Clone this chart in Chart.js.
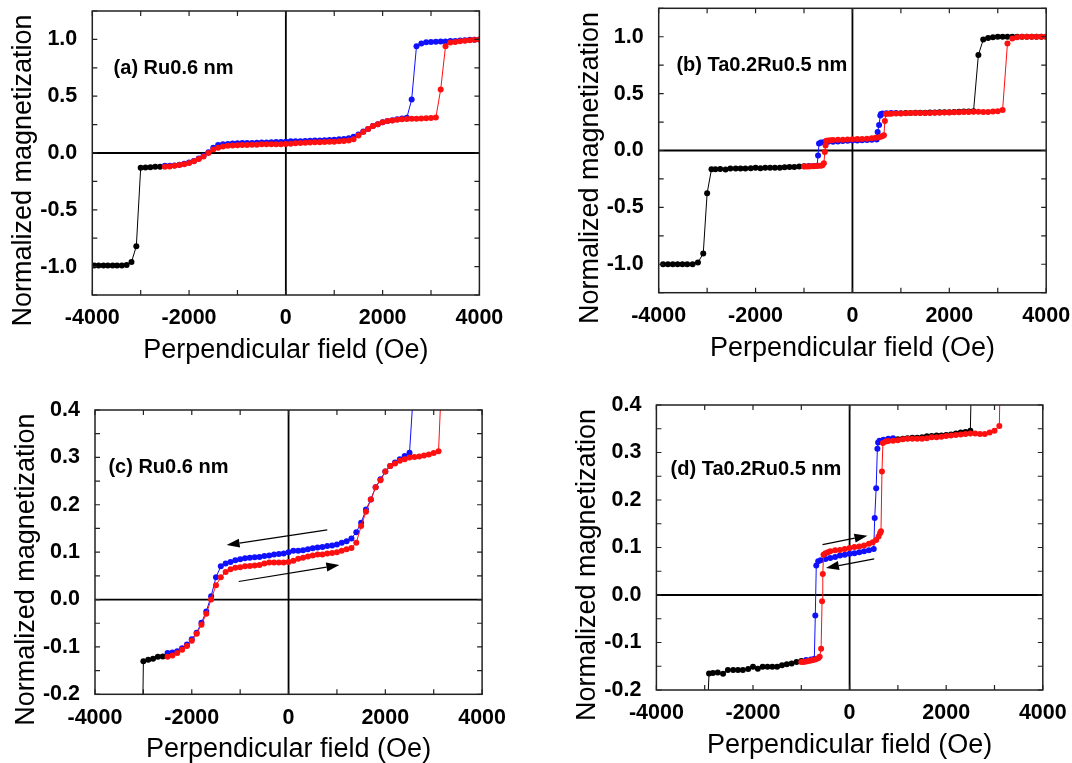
<!DOCTYPE html>
<html>
<head>
<meta charset="utf-8">
<title>Normalized magnetization vs perpendicular field</title>
<script src="https://cdn.jsdelivr.net/npm/chart.js@4.4.1/dist/chart.umd.min.js"></script>
<style>
  html, body { margin: 0; padding: 0; background: #fff; }
  body { width: 1072px; height: 763px; position: relative; overflow: hidden; }
  .panel { position: absolute; }
</style>
</head>
<body>
<div class="panel" style="left:0;top:-20px"><canvas id="chartA" width="536" height="401"></canvas></div>
<div class="panel" style="left:536px;top:-20px"><canvas id="chartB" width="560" height="401"></canvas></div>
<div class="panel" style="left:0;top:381px"><canvas id="chartC" width="536" height="382"></canvas></div>
<div class="panel" style="left:536px;top:381px"><canvas id="chartD" width="560" height="382"></canvas></div>
<script>
// Ru0.6 nm sample (panels a and c) - field in Oe, normalized magnetization
const ruBlackField = [-3960, -3870, -3770, -3680, -3580, -3490, -3390, -3290, -3190, -3090, -3000, -2900, -2800, -2700, -2600];
const ruBlackM = [-0.99, -0.99, -0.99, -0.99, -0.99, -0.99, -0.99, -0.985, -0.96, -0.82, -0.130, -0.127, -0.125, -0.121, -0.120];

const ruLoopField = [-2500, -2400, -2300, -2200, -2100, -2000, -1900, -1800, -1700, -1600,
  -1500, -1400, -1300, -1200, -1100, -1000, -900, -800, -700, -600,
  -500, -400, -300, -200, -100, 0, 100, 200, 300, 400,
  500, 600, 700, 800, 900, 1000, 1100, 1200, 1300, 1400,
  1500, 1600, 1700, 1800, 1900, 2000, 2100, 2200, 2300, 2400,
  2500, 2600, 2700, 2800, 2900, 3000, 3100, 3200, 3300, 3400,
  3500, 3600, 3700, 3800, 3900, 4000];
const ruBlueM = [-0.113, -0.112, -0.109, -0.103, -0.095, -0.084, -0.070, -0.049, -0.025, 0.007,
  0.047, 0.070, 0.076, 0.079, 0.083, 0.085, 0.087, 0.088, 0.089, 0.090,
  0.092, 0.093, 0.095, 0.096, 0.097, 0.100, 0.103, 0.103, 0.104, 0.106,
  0.108, 0.110, 0.111, 0.113, 0.114, 0.116, 0.120, 0.123, 0.129, 0.142,
  0.162, 0.190, 0.211, 0.237, 0.254, 0.270, 0.282, 0.289, 0.296, 0.303,
  0.310, 0.47, 0.94, 0.965, 0.975, 0.978, 0.980, 0.981, 0.982, 0.985,
  0.987, 0.990, 0.993, 0.996, 0.998, 1.0];
const ruRedM = [-0.121, -0.118, -0.113, -0.106, -0.098, -0.087, -0.072, -0.053, -0.030, 0.000,
  0.030, 0.047, 0.058, 0.064, 0.067, 0.068, 0.070, 0.071, 0.072, 0.073,
  0.076, 0.078, 0.078, 0.078, 0.078, 0.079, 0.082, 0.086, 0.088, 0.091,
  0.093, 0.095, 0.095, 0.097, 0.098, 0.100, 0.103, 0.106, 0.109, 0.120,
  0.155, 0.185, 0.211, 0.237, 0.252, 0.270, 0.282, 0.287, 0.293, 0.296,
  0.300, 0.301, 0.302, 0.304, 0.306, 0.309, 0.313, 0.56, 0.94, 0.972,
  0.978, 0.983, 0.988, 0.993, 0.997, 1.0];

// Ta0.2Ru0.5 nm sample (panels b and d)
const taBlackLeftField = [-3910, -3810, -3710, -3610, -3510, -3410, -3300, -3190, -3080, -3000,
  -2910, -2830, -2730, -2620, -2520, -2410, -2310, -2210, -2100, -2000,
  -1900, -1800, -1700, -1600, -1500, -1400, -1300, -1200, -1100, -1000];
const taBlackLeftM = [-1.0, -1.0, -1.0, -1.0, -1.0, -1.0, -1.0, -0.985, -0.905, -0.375,
  -0.165, -0.164, -0.163, -0.166, -0.158, -0.158, -0.158, -0.158, -0.156, -0.151,
  -0.155, -0.151, -0.151, -0.151, -0.151, -0.148, -0.146, -0.144, -0.141, -0.139];
const taBlackRightField = [1000, 1100, 1200, 1300, 1400, 1500, 1600, 1700, 1800, 1900,
  2000, 2100, 2200, 2300, 2400, 2500, 2600, 2700, 2800, 2900,
  3000, 3100, 3200, 3300, 3400, 3500, 3600, 3700, 3800, 3900, 4000];
const taBlackRightM = [0.328, 0.329, 0.330, 0.331, 0.331, 0.332, 0.334, 0.335, 0.336, 0.336,
  0.337, 0.338, 0.340, 0.342, 0.343, 0.346, 0.84, 0.975, 0.99, 0.995,
  1.0, 1.0, 1.0, 1.0, 1.0, 1.0, 1.0, 1.0, 1.0, 1.0, 1.0];
const taBlueField = [900, 800, 700, 620, 590, 575, 550, 520, 500, 400,
  300, 200, 100, 0, -100, -200, -300, -400, -500, -600,
  -650, -690, -710, -730, -800, -900];
const taBlueM = [0.330, 0.329, 0.327, 0.325, 0.321, 0.308, 0.225, 0.162, 0.097, 0.094,
  0.092, 0.090, 0.088, 0.087, 0.085, 0.083, 0.080, 0.078, 0.076, 0.073,
  0.071, 0.062, -0.043, -0.134, -0.136, -0.137];
const taRedField = [-1000, -950, -900, -850, -800, -750, -700, -650, -620, -590,
  -570, -555, -540, -500, -450, -400, -300, -200, -100, 0,
  100, 200, 300, 400, 480, 550, 600, 630, 650, 670,
  690, 750, 800, 900, 1000, 1100, 1200, 1300, 1400, 1500,
  1600, 1700, 1800, 1900, 2000, 2100, 2200, 2300, 2400, 2500,
  2600, 2700, 2800, 2900, 3000, 3100, 3200, 3300, 3400, 3500,
  3600, 3700, 3800, 3900, 4000];
const taRedM = [-0.141, -0.141, -0.140, -0.139, -0.138, -0.137, -0.135, -0.133, -0.130, -0.113,
  -0.013, 0.044, 0.085, 0.088, 0.090, 0.092, 0.094, 0.095, 0.097, 0.099,
  0.101, 0.102, 0.104, 0.108, 0.111, 0.116, 0.123, 0.130, 0.134, 0.260,
  0.320, 0.323, 0.324, 0.325, 0.326, 0.328, 0.329, 0.329, 0.329, 0.329,
  0.330, 0.332, 0.332, 0.333, 0.335, 0.336, 0.337, 0.338, 0.339, 0.340,
  0.340, 0.339, 0.339, 0.342, 0.346, 0.356, 0.94, 0.984, 0.995, 0.999,
  1.0, 1.0, 1.0, 1.0, 1.0];

// sweep-direction arrows, [field, magnetization] start -> end
const arrowsC = [[[800, 0.147], [-1280, 0.115]], [[-1030, 0.038], [1050, 0.073]]];
const arrowsD = [[[-560, 0.106], [370, 0.125]], [[510, 0.076], [-490, 0.057]]];

const panelLabels = ['(a) Ru0.6 nm', '(b) Ta0.2Ru0.5 nm', '(c) Ru0.6 nm', '(d) Ta0.2Ru0.5 nm'];
const xTitle = 'Perpendicular field (Oe)';
const yTitle = 'Normalized magnetization';

const FONT = "'Liberation Sans', Arial, sans-serif";

function pts(field, m) {
    return field.map((x, i) => ({ x: x, y: m[i] }));
}

function series(field, m, color) {
    return {
        data: pts(field, m),
        showLine: true,
        borderColor: color,
        backgroundColor: color,
        borderWidth: 1,
        pointRadius: 3,
        pointBorderWidth: 0,
        pointHoverRadius: 3,
        clip: 0
    };
}

// draws the frame, inward ticks, zero lines, arrows and texts
function framePlugin(cfg) {
    return {
        id: 'frame' + cfg.id,
        beforeDatasetsDraw(chart) {
            const { ctx, chartArea: a, scales } = chart;
            const x0 = scales.x.getPixelForValue(0);
            const y0 = scales.y.getPixelForValue(0);
            ctx.save();
            ctx.strokeStyle = '#000';
            ctx.lineWidth = 1.8;
            ctx.beginPath();
            ctx.moveTo(x0, a.top); ctx.lineTo(x0, a.bottom);
            ctx.moveTo(a.left, y0); ctx.lineTo(a.right, y0);
            ctx.stroke();
            ctx.restore();
        },
        afterDatasetsDraw(chart) {
            const { ctx, chartArea: a, scales } = chart;
            const xs = scales.x, ys = scales.y;
            ctx.save();
            ctx.strokeStyle = '#222';
            ctx.lineWidth = 1.5;
            ctx.strokeRect(a.left, a.top, a.right - a.left, a.bottom - a.top);
            ctx.lineWidth = 1.2;
            ctx.beginPath();
            xs.ticks.forEach(t => {
                const px = xs.getPixelForValue(t.value);
                ctx.moveTo(px, a.bottom); ctx.lineTo(px, a.bottom - 5);
                ctx.moveTo(px, a.top); ctx.lineTo(px, a.top + 5);
            });
            ys.ticks.forEach(t => {
                const py = ys.getPixelForValue(t.value);
                ctx.moveTo(a.left, py); ctx.lineTo(a.left + 5, py);
                ctx.moveTo(a.right, py); ctx.lineTo(a.right - 5, py);
            });
            ctx.stroke();

            // arrows
            ctx.strokeStyle = '#000';
            ctx.fillStyle = '#000';
            (cfg.arrows || []).forEach(([p, q]) => {
                const x1 = xs.getPixelForValue(p[0]), y1 = ys.getPixelForValue(p[1]);
                const x2 = xs.getPixelForValue(q[0]), y2 = ys.getPixelForValue(q[1]);
                const ang = Math.atan2(y2 - y1, x2 - x1);
                const len = 13, hw = 4.5;
                ctx.lineWidth = 1.2;
                ctx.beginPath();
                ctx.moveTo(x1, y1);
                ctx.lineTo(x2 - len * Math.cos(ang), y2 - len * Math.sin(ang));
                ctx.stroke();
                ctx.beginPath();
                ctx.moveTo(x2, y2);
                ctx.lineTo(x2 - len * Math.cos(ang) - hw * Math.sin(ang), y2 - len * Math.sin(ang) + hw * Math.cos(ang));
                ctx.lineTo(x2 - len * Math.cos(ang) + hw * Math.sin(ang), y2 - len * Math.sin(ang) - hw * Math.cos(ang));
                ctx.closePath();
                ctx.fill();
            });

            // panel label
            ctx.fillStyle = '#000';
            ctx.font = 'bold 20px ' + FONT;
            ctx.textAlign = 'left';
            ctx.textBaseline = 'middle';
            ctx.fillText(cfg.label, a.left + cfg.labelDx, a.top + cfg.labelDy);

            // axis titles
            ctx.font = '27px ' + FONT;
            ctx.textAlign = 'center';
            ctx.fillText(xTitle, (a.left + a.right) / 2, a.bottom + 55.5);
            ctx.translate(a.left - 68.5, (a.top + a.bottom) / 2 + 17.5);
            ctx.rotate(-Math.PI / 2);
            ctx.fillText(yTitle, 0, 0);
            ctx.restore();
        }
    };
}

function makePanel(cfg, datasets, ymin, ymax, ystep, ylabelStep) {
    const tickFont = { family: FONT, size: 21.5, weight: 'bold' };
    new Chart(document.getElementById(cfg.id), {
        type: 'scatter',
        data: { datasets: datasets },
        options: {
            responsive: false,
            animation: false,
            events: [],
            layout: { padding: { left: 0, top: cfg.top, right: cfg.right, bottom: 0 } },
            plugins: { legend: { display: false }, tooltip: { enabled: false } },
            scales: {
                x: {
                    type: 'linear', min: -4000, max: 4000,
                    afterFit: s => { s.height = cfg.bottom; },
                    grid: { display: false }, border: { display: false },
                    ticks: {
                        stepSize: 1000, autoSkip: false, maxRotation: 0, padding: 2.5,
                        color: '#000', font: tickFont,
                        callback: v => (v % 2000 === 0 ? String(v) : '')
                    }
                },
                y: {
                    type: 'linear', min: ymin, max: ymax,
                    afterFit: s => { s.width = cfg.left; },
                    grid: { display: false }, border: { display: false },
                    ticks: {
                        stepSize: ystep, autoSkip: false, padding: 7,
                        color: '#000', font: tickFont,
                        callback: v => {
                            const k = Math.round(v / ylabelStep);
                            return Math.abs(v - k * ylabelStep) < 1e-6 ? (k * ylabelStep).toFixed(1) : '';
                        }
                    }
                }
            }
        },
        plugins: [framePlugin(cfg)]
    });
}

const RED = '#ff1010', BLUE = '#1010ff', BLACK = '#000000';

function ruSets() {
    return [series(ruLoopField, ruRedM, RED), series(ruLoopField, ruBlueM, BLUE), series(ruBlackField, ruBlackM, BLACK)];
}
function taSets() {
    return [series(taRedField, taRedM, RED), series(taBlueField, taBlueM, BLUE),
        series(taBlackLeftField, taBlackLeftM, BLACK), series(taBlackRightField, taBlackRightM, BLACK)];
}

makePanel({ id: 'chartA', left: 92.3, top: 31, right: 56.6, bottom: 86, labelDx: 21.3, labelDy: 57, label: panelLabels[0] },
    ruSets(), -1.25, 1.25, 0.25, 0.5);
makePanel({ id: 'chartB', left: 122.7, top: 28.3, right: 49.8, bottom: 88.3, labelDx: 17.7, labelDy: 56.7, label: panelLabels[1] },
    taSets(), -1.25, 1.25, 0.25, 0.5);
makePanel({ id: 'chartC', left: 95, top: 29, right: 53.9, bottom: 68.7, labelDx: 13.4, labelDy: 57.3, label: panelLabels[2], arrows: arrowsC },
    ruSets(), -0.2, 0.4, 0.05, 0.1);
makePanel({ id: 'chartD', left: 120.4, top: 24, right: 53.2, bottom: 73, labelDx: 14.2, labelDy: 64.3, label: panelLabels[3], arrows: arrowsD },
    taSets(), -0.2, 0.4, 0.05, 0.1);
</script>
</body>
</html>
